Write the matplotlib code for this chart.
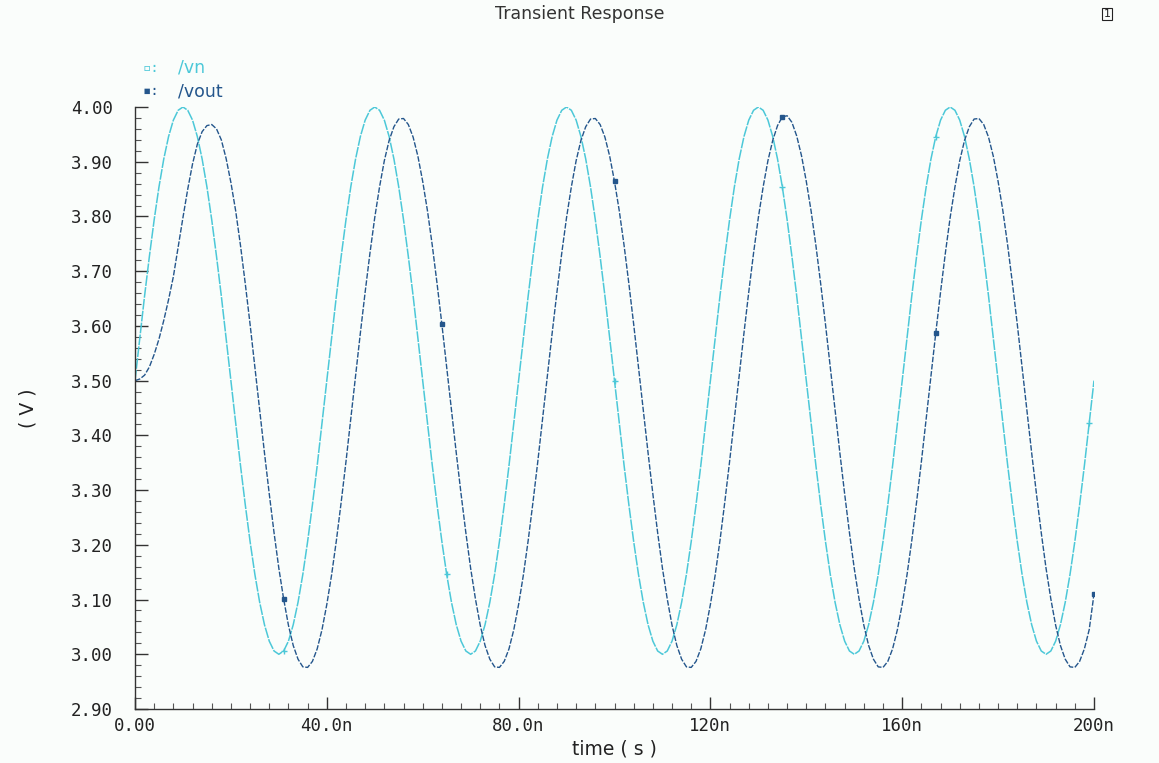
import matplotlib
matplotlib.use("Agg")
import matplotlib.pyplot as plt
from matplotlib.ticker import FixedLocator, FixedFormatter, MultipleLocator

# transient sim, values (1 ns grid, volts)
time_ns = list(range(0, 201))

vn = [3.500, 3.578, 3.655, 3.727, 3.794, 3.854, 3.905, 3.946, 3.976, 3.994, 4.000, 3.994, 3.976, 3.946, 3.905, 3.854, 3.794, 3.727, 3.655, 3.578,
      3.500, 3.422, 3.345, 3.273, 3.206, 3.146, 3.095, 3.054, 3.024, 3.006, 3.000, 3.006, 3.024, 3.054, 3.095, 3.146, 3.206, 3.273, 3.345, 3.422,
      3.500, 3.578, 3.655, 3.727, 3.794, 3.854, 3.905, 3.946, 3.976, 3.994, 4.000, 3.994, 3.976, 3.946, 3.905, 3.854, 3.794, 3.727, 3.655, 3.578,
      3.500, 3.422, 3.345, 3.273, 3.206, 3.146, 3.095, 3.054, 3.024, 3.006, 3.000, 3.006, 3.024, 3.054, 3.095, 3.146, 3.206, 3.273, 3.345, 3.422,
      3.500, 3.578, 3.655, 3.727, 3.794, 3.854, 3.905, 3.946, 3.976, 3.994, 4.000, 3.994, 3.976, 3.946, 3.905, 3.854, 3.794, 3.727, 3.655, 3.578,
      3.500, 3.422, 3.345, 3.273, 3.206, 3.146, 3.095, 3.054, 3.024, 3.006, 3.000, 3.006, 3.024, 3.054, 3.095, 3.146, 3.206, 3.273, 3.345, 3.422,
      3.500, 3.578, 3.655, 3.727, 3.794, 3.854, 3.905, 3.946, 3.976, 3.994, 4.000, 3.994, 3.976, 3.946, 3.905, 3.854, 3.794, 3.727, 3.655, 3.578,
      3.500, 3.422, 3.345, 3.273, 3.206, 3.146, 3.095, 3.054, 3.024, 3.006, 3.000, 3.006, 3.024, 3.054, 3.095, 3.146, 3.206, 3.273, 3.345, 3.422,
      3.500, 3.578, 3.655, 3.727, 3.794, 3.854, 3.905, 3.946, 3.976, 3.994, 4.000, 3.994, 3.976, 3.946, 3.905, 3.854, 3.794, 3.727, 3.655, 3.578,
      3.500, 3.422, 3.345, 3.273, 3.206, 3.146, 3.095, 3.054, 3.024, 3.006, 3.000, 3.006, 3.024, 3.054, 3.095, 3.146, 3.206, 3.273, 3.345, 3.422,
      3.500]

vout = [3.500, 3.503, 3.510, 3.525, 3.548, 3.576, 3.610, 3.648, 3.690, 3.744, 3.798, 3.850, 3.896, 3.932, 3.955, 3.966, 3.968, 3.960, 3.940, 3.906,
        3.862, 3.810, 3.747, 3.677, 3.603, 3.525, 3.446, 3.368, 3.293, 3.222, 3.157, 3.101, 3.053, 3.016, 2.991, 2.977, 2.976, 2.987, 3.010, 3.045,
        3.091, 3.145, 3.208, 3.278, 3.352, 3.430, 3.509, 3.587, 3.662, 3.733, 3.798, 3.854, 3.902, 3.939, 3.964, 3.978, 3.979, 3.968, 3.945, 3.910,
        3.864, 3.810, 3.747, 3.677, 3.603, 3.525, 3.446, 3.368, 3.293, 3.222, 3.157, 3.101, 3.053, 3.016, 2.991, 2.977, 2.976, 2.987, 3.010, 3.045,
        3.091, 3.145, 3.208, 3.278, 3.352, 3.430, 3.509, 3.587, 3.662, 3.733, 3.798, 3.854, 3.902, 3.939, 3.964, 3.978, 3.979, 3.968, 3.945, 3.910,
        3.864, 3.810, 3.747, 3.677, 3.603, 3.525, 3.446, 3.368, 3.293, 3.222, 3.157, 3.101, 3.053, 3.016, 2.991, 2.977, 2.976, 2.987, 3.010, 3.045,
        3.091, 3.145, 3.208, 3.278, 3.352, 3.430, 3.509, 3.587, 3.662, 3.733, 3.798, 3.854, 3.902, 3.939, 3.966, 3.982, 3.984, 3.972, 3.947, 3.911,
        3.864, 3.810, 3.747, 3.677, 3.603, 3.525, 3.446, 3.368, 3.293, 3.222, 3.157, 3.101, 3.053, 3.016, 2.991, 2.977, 2.976, 2.987, 3.010, 3.045,
        3.091, 3.145, 3.208, 3.278, 3.352, 3.430, 3.509, 3.587, 3.662, 3.733, 3.798, 3.854, 3.902, 3.939, 3.964, 3.978, 3.979, 3.968, 3.945, 3.910,
        3.864, 3.810, 3.747, 3.677, 3.603, 3.525, 3.446, 3.368, 3.293, 3.222, 3.157, 3.101, 3.053, 3.016, 2.991, 2.977, 2.976, 2.987, 3.010, 3.045,
        3.110]

# sample indices where the viewer drew its trace symbols
vn_marks = [31, 65, 100, 135, 167, 199]
vout_marks = [31, 64, 100, 135, 167, 200]

x_ticks = [0, 40, 80, 120, 160, 200]
x_labels = ["0.00", "40.0n", "80.0n", "120n", "160n", "200n"]
y_ticks = [2.9, 3.0, 3.1, 3.2, 3.3, 3.4, 3.5, 3.6, 3.7, 3.8, 3.9, 4.0]
y_labels = ["2.90", "3.00", "3.10", "3.20", "3.30", "3.40", "3.50", "3.60", "3.70", "3.80", "3.90", "4.00"]

bg = "#fafdfb"
c_vn = "#4cc8d8"
c_vout = "#24568c"
mono = "DejaVu Sans Mono"

fig = plt.figure(figsize=(11.59, 7.63), dpi=100, facecolor=bg)
ax = fig.add_axes([135/1159, 1 - 709/763, (1094-135)/1159, (709-107)/763])
ax.set_facecolor(bg)

ax.plot(time_ns, vn, color=c_vn, lw=1.1, dashes=(7, 0.8), marker="+", ms=5, mew=1.0,
        markevery=vn_marks, label="/vn")
ax.plot(time_ns, vout, color=c_vout, lw=1.0, dashes=(4, 1.2), marker="s", ms=2.5,
        markevery=vout_marks, label="/vout")

ax.set_xlim(0, 200)
ax.set_ylim(2.9, 4.0)

for s in ["top", "right"]:
    ax.spines[s].set_visible(False)
for s in ["left", "bottom"]:
    ax.spines[s].set_color("#333333")
    ax.spines[s].set_linewidth(1.0)

ax.xaxis.set_major_locator(FixedLocator(x_ticks))
ax.xaxis.set_major_formatter(FixedFormatter(x_labels))
ax.xaxis.set_minor_locator(MultipleLocator(4))
ax.yaxis.set_major_locator(FixedLocator(y_ticks))
ax.yaxis.set_major_formatter(FixedFormatter(y_labels))
ax.yaxis.set_minor_locator(MultipleLocator(0.02))

ax.tick_params(which="major", direction="in", length=9, width=1.0, color="#333333",
               labelsize=12.5, labelcolor="#222222", pad=6)
ax.tick_params(which="minor", direction="in", length=4, width=0.8, color="#555555")
ax.tick_params(axis="y", which="major", pad=16)
for lab in ax.get_xticklabels() + ax.get_yticklabels():
    lab.set_family(mono)

ax.set_xlabel("time ( s )", fontsize=13.5, family="DejaVu Sans", color="#222222", labelpad=3)
ax.set_ylabel("( V )", fontsize=13.5, family="DejaVu Sans", color="#222222", labelpad=24)

fig.text(0.5, 1 - 14/763, "Transient Response", ha="center", va="center",
         fontsize=12.5, color="#333333")
fig.text(1107/1159, 1 - 14/763, "1", ha="center", va="center", fontsize=8, color="#222222",
         bbox=dict(boxstyle="square,pad=0.1", fc=bg, ec="#222222", lw=0.8))

# legend in cadence style, top-left above the axes
fig.text(143/1159, 1 - 68/763, "\u25ab:", fontsize=10, color=c_vn, va="center", family=mono)
fig.text(178/1159, 1 - 68/763, "/vn", fontsize=12.5, color=c_vn, va="center")
fig.text(143/1159, 1 - 91/763, "\u25aa:", fontsize=10, color=c_vout, va="center", family=mono)
fig.text(178/1159, 1 - 91/763, "/vout", fontsize=12.5, color=c_vout, va="center")

fig.savefig("out.png", dpi=100, facecolor=bg)
